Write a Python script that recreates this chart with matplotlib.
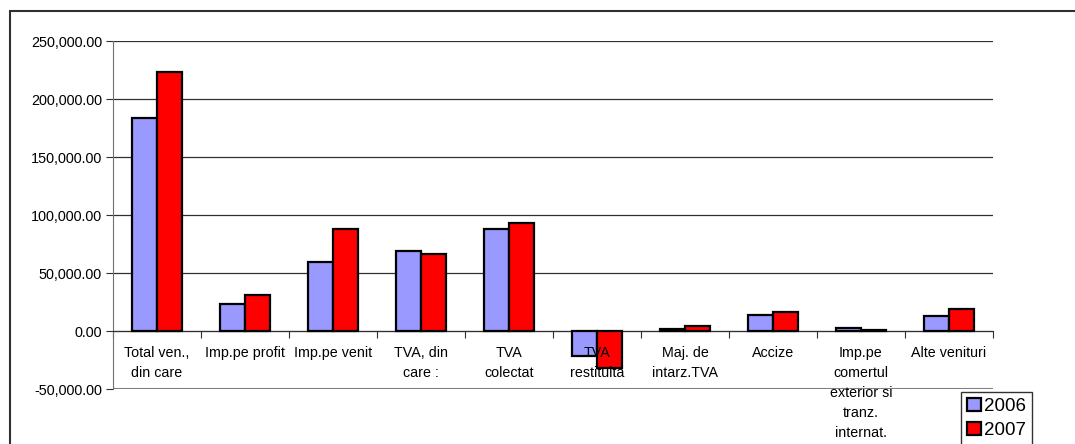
import matplotlib
matplotlib.use("Agg")
import matplotlib.pyplot as plt
import numpy as np
from matplotlib.patches import Rectangle
from matplotlib.ticker import FuncFormatter, FixedLocator

plt.rcParams['font.family'] = ['Liberation Sans', 'DejaVu Sans']

# data
categories = ["Total ven.,\ndin care", "Imp.pe profit", "Imp.pe venit", "TVA, din\ncare :",
              "TVA\ncolectat", "TVA\nrestituita", "Maj. de\nintarz.TVA", "Accize",
              "Imp.pe\ncomertul\nexterior si\ntranz.\ninternat.", "Alte venituri"]
v2006 = [183400, 23000, 59700, 69200, 87700, -21500, 1700, 13800, 2300, 13200]
v2007 = [223000, 31000, 87700, 66100, 93400, -32200, 4300, 16400, 500, 18700]
series_names = ["2006", "2007"]

fig = plt.figure(figsize=(10.75, 4.44), dpi=100)
ax = fig.add_axes([113/1075, 1-389/444, 880/1075, 348/444])

x = np.arange(len(categories))
w = 0.286
ax.bar(x - w/2, v2006, w, color='#9999FF', edgecolor='black', linewidth=1.6, label=series_names[0], zorder=3)
ax.bar(x + w/2, v2007, w, color='#FF0000', edgecolor='black', linewidth=1.6, label=series_names[1], zorder=3)

ax.set_xlim(-0.5, len(categories) - 0.5)
ax.set_ylim(-50000, 250000)
ax.set_yticks(np.arange(-50000, 250001, 50000))
ax.yaxis.set_major_formatter(FuncFormatter(lambda v, p: "{:,.2f}".format(v)))
ax.yaxis.grid(True, color='#303030', linewidth=0.9)
ax.set_axisbelow(True)

# x axis crosses at zero
ax.spines['bottom'].set_position(('data', 0))
ax.spines['bottom'].set_color('#303030')
ax.spines['left'].set_color('#707070')
ax.spines['top'].set_visible(False)
ax.spines['right'].set_visible(False)
ax.axhline(-50000, color='#808080', linewidth=1.5, zorder=1)

ax.xaxis.set_major_locator(FixedLocator(np.arange(-0.5, len(categories), 1)))
ax.xaxis.set_major_formatter(FuncFormatter(lambda v, p: ""))
ax.tick_params(axis='x', which='major', direction='out', length=5, color='#303030')
ax.tick_params(axis='y', direction='out', length=5, labelsize=10.4, pad=3, color='#303030')

# category labels drawn above the bars
for i, cat in enumerate(categories):
    ax.annotate(cat, (x[i], 0), xytext=(0, -11), textcoords='offset points',
                ha='center', va='top', fontsize=10.3, linespacing=1.53, zorder=6,
                annotation_clip=False)

leg = fig.legend(loc='upper left', bbox_to_anchor=(961/1075, 1-392/444), fontsize=13.5,
                 frameon=True, fancybox=False, edgecolor='black', handlelength=0.75,
                 handleheight=0.75, handletextpad=0.2, borderpad=0.3, labelspacing=0.35,
                 borderaxespad=0)
leg.get_frame().set_linewidth(1.0)

# outer chart border
fig.patches.append(Rectangle((10/1075, -0.1), 1.1, 1-11/444 + 0.1, transform=fig.transFigure,
                             fill=False, edgecolor='#303030', linewidth=1.5))

fig.savefig("out.png", dpi=100)
